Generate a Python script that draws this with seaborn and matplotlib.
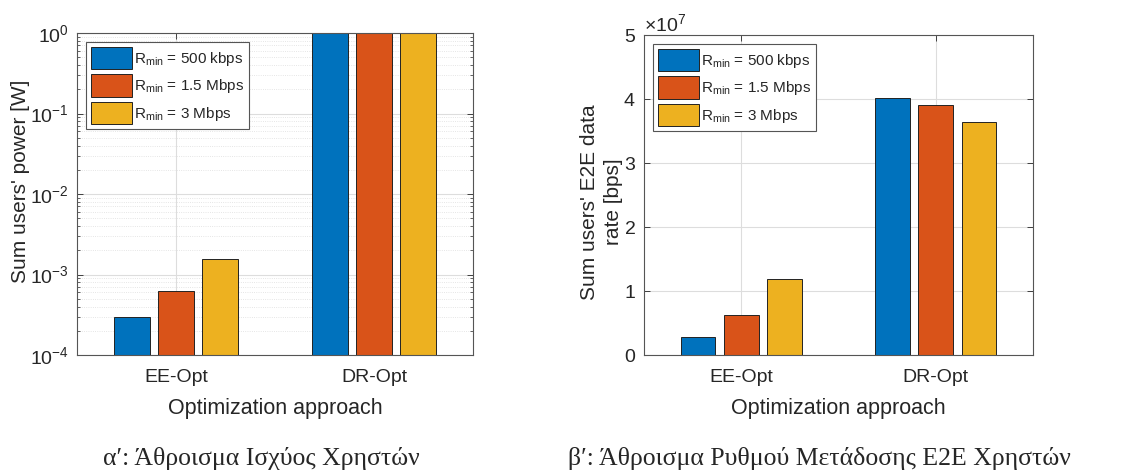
import numpy as np
import pandas as pd
import matplotlib
matplotlib.use("Agg")
import matplotlib.pyplot as plt
import seaborn as sns
from matplotlib.patches import Patch
from matplotlib.ticker import ScalarFormatter

# ---- data ----
approaches = ["EE-Opt", "DR-Opt"]
rmin_labels = ["R$_{\\mathrm{min}}$ = 500 kbps", "R$_{\\mathrm{min}}$ = 1.5 Mbps", "R$_{\\mathrm{min}}$ = 3 Mbps"]
power_500k = [3.0e-4, 1.0]
power_1500k = [6.2e-4, 1.0]
power_3M = [1.55e-3, 1.0]
rate_500k = [2.8e6, 4.01e7]
rate_1500k = [6.3e6, 3.90e7]
rate_3M = [1.19e7, 3.64e7]
colors = ["#0072BD", "#D95319", "#EDB120"]
captions = ["α′: Άθροισμα Ισχύος Χρηστών", "β′: Άθροισμα Ρυθμού Μετάδοσης E2E Χρηστών"]

sns.set_theme(style="white")
plt.rcParams["font.family"] = ["Liberation Sans", "DejaVu Sans"]
plt.rcParams["mathtext.fontset"] = "custom"
plt.rcParams["mathtext.rm"] = "Liberation Sans"
plt.rcParams["mathtext.it"] = "Liberation Sans:italic"
plt.rcParams["mathtext.default"] = "regular"

def make_df(s1, s2, s3):
    rows = []
    for lab, ser in zip(rmin_labels, [s1, s2, s3]):
        for a, v in zip(approaches, ser):
            rows.append({"approach": a, "rmin": lab, "value": v})
    return pd.DataFrame(rows)

df_p = make_df(power_500k, power_1500k, power_3M)
df_r = make_df(rate_500k, rate_1500k, rate_3M)

fig = plt.figure(figsize=(11.26, 4.71), dpi=100)
axL = fig.add_axes([77/1126, 116/471, 396/1126, 322/471])
axR = fig.add_axes([644/1126, 116/471, 389/1126, 320/471])

axis_col = "#262626"
TICK = 14
LAB = 15.5
YLAB = 15

def style(ax):
    ax.set_xlim(-0.5, 1.5)
    for s in ax.spines.values():
        s.set_color("#555555")
        s.set_linewidth(0.8)
        s.set_visible(True)
    ax.tick_params(direction="in", top=True, right=True, labelsize=TICK,
                   colors=axis_col, length=4, width=0.6, which="major",
                   left=True, bottom=True)
    ax.tick_params(axis="x", pad=10)
    ax.tick_params(axis="y", pad=6)
    ax.set_xlabel("Optimization approach", fontsize=LAB, color=axis_col, labelpad=9)
    for p in ax.patches:
        p.set_edgecolor("#222222")
        p.set_linewidth(0.7)
    ax.legend(handles=[Patch(facecolor=c, edgecolor="#222222", linewidth=0.7, label=l)
                       for c, l in zip(colors, rmin_labels)],
              loc="upper left", fontsize=11, frameon=True, fancybox=False,
              edgecolor="#555555", framealpha=1, handlelength=2.7, handleheight=1.9,
              labelspacing=0.32, handletextpad=0.15, borderpad=0.3, borderaxespad=0.6)
    ax.get_legend().get_frame().set_linewidth(0.8)
    ax.set_axisbelow(True)

# Left: power (log)
sns.barplot(data=df_p, x="approach", y="value", hue="rmin", palette=colors,
            width=0.667, gap=0.2, saturation=1, ax=axL, legend=False, errorbar=None)
axL.set_yscale("log")
axL.set_ylim(1e-4, 1)
axL.grid(True, which="major", axis="both", color="#dddddd", linewidth=0.8)
axL.grid(True, which="minor", axis="y", color="#dddddd", linewidth=0.6, linestyle=":")
axL.tick_params(which="minor", direction="in", left=True, right=True, length=2, width=0.5, colors=axis_col)
axL.set_ylabel("Sum users' power [W]", fontsize=YLAB, color=axis_col)
style(axL)
axL.yaxis.set_label_coords(-0.119, 0.54)

# Right: rate (linear)
sns.barplot(data=df_r, x="approach", y="value", hue="rmin", palette=colors,
            width=0.667, gap=0.2, saturation=1, ax=axR, legend=False, errorbar=None)
axR.set_ylim(0, 5e7)
axR.set_yticks(np.arange(0, 5.01e7, 1e7))
fmt = ScalarFormatter(useMathText=True)
fmt.set_powerlimits((0, 0))
axR.yaxis.set_major_formatter(fmt)
axR.yaxis.get_offset_text().set_fontsize(TICK)
axR.yaxis.get_offset_text().set_color(axis_col)
axR.grid(True, which="major", axis="both", color="#dddddd", linewidth=0.8)
axR.set_ylabel("Sum users' E2E data\nrate [bps]", fontsize=YLAB, color=axis_col, linespacing=1.35)
style(axR)
axR.yaxis.set_label_coords(-0.054, 0.478)

serif = ["Liberation Serif", "DejaVu Serif"]
fig.text(261/1126, 1 - 458/471, captions[0], ha="center", va="center", fontsize=18.5, family=serif)
fig.text(819/1126, 1 - 458/471, captions[1], ha="center", va="center", fontsize=18.5, family=serif)

fig.savefig("out.png", dpi=100, facecolor="white")
